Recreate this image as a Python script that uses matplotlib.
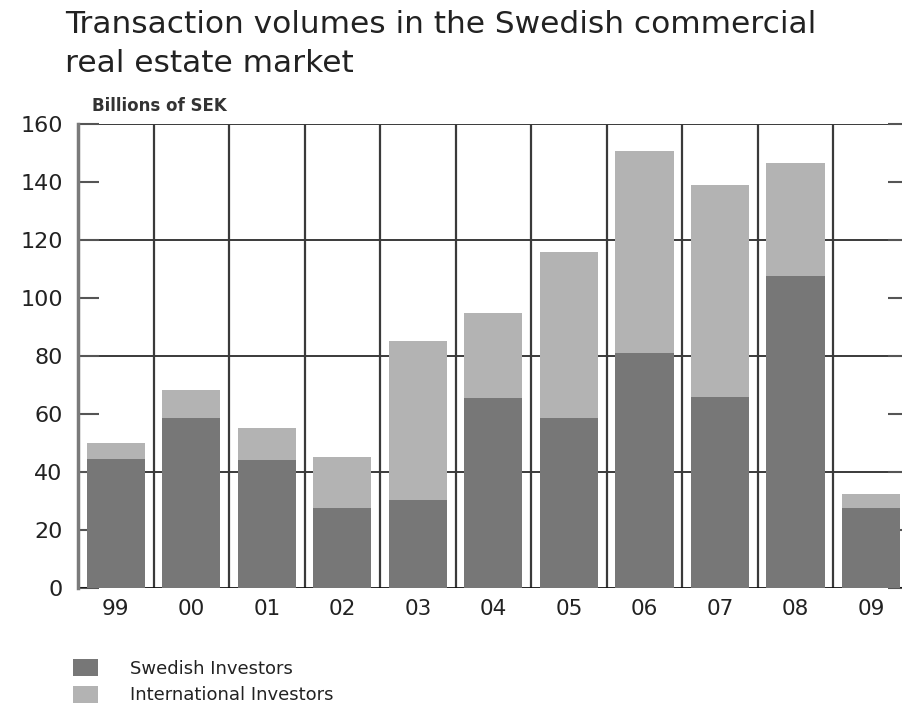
import matplotlib
matplotlib.use("Agg")
import matplotlib.pyplot as plt
import numpy as np

### Data (billions of SEK)
years = ['99', '00', '01', '02', '03', '04', '05', '06', '07', '08', '09']
swedish = [44.5, 58.5, 44.0, 27.5, 30.3, 65.4, 58.6, 81.0, 66.0, 107.7, 27.5]
international = [5.5, 9.7, 11.0, 17.7, 55.0, 29.4, 57.3, 69.7, 73.0, 38.7, 5.0]

col_swe = '#777777'
col_int = '#b3b3b3'
fontname = 'DejaVu Sans'

fig = plt.figure(figsize=(9.03, 7.11), dpi=100)
ax = fig.add_axes([0.0864, 0.173, 0.92, 0.6526])

x = np.arange(len(years))
bw = 0.77
ax.bar(x, swedish, width=bw, color=col_swe, zorder=3, label='Swedish Investors')
ax.bar(x, international, width=bw, bottom=swedish, color=col_int, zorder=3,
       label='International Investors')

### grid: horizontal every 40, vertical between categories
for yv in [40, 80, 120, 160]:
    ax.axhline(yv, color='#3a3a3a', linewidth=1.4, zorder=1)
for xv in x[:-1] + 0.5:
    ax.axvline(xv, color='#3a3a3a', linewidth=1.6, zorder=1)
ax.axhline(0, color='#111111', linewidth=2.0, zorder=2)

ax.set_xlim(-0.5, len(years) - 0.5)
ax.set_ylim(0, 160)
ax.set_yticks(np.arange(0, 161, 20))
ax.set_xticks(x)
ax.set_xticklabels(years)

for s in ['top', 'right', 'bottom']:
    ax.spines[s].set_visible(False)
ax.spines['left'].set_color('#7a7a7a')
ax.spines['left'].set_linewidth(2.5)

ax.tick_params(axis='y', direction='in', length=15, width=1.5, color='#555555',
               right=True, labelsize=16, pad=11, labelcolor='#222222')
ax.tick_params(axis='x', length=0, labelsize=15.5, pad=8, labelcolor='#222222')
for lab in ax.get_xticklabels() + ax.get_yticklabels():
    lab.set_family(fontname)

### Titles
fig.text(0.072, 0.9536, 'Transaction volumes in the Swedish commercial',
         fontsize=22.5, family=fontname, color='#222222', va='baseline', ha='left')
fig.text(0.072, 0.8987, 'real estate market',
         fontsize=22.5, family=fontname, color='#222222', va='baseline', ha='left')
fig.text(0.102, 0.8439, 'Billions of SEK', fontsize=12, family=fontname,
         fontweight='bold', color='#333333', va='baseline', ha='left')

### Legend
leg = fig.legend(loc='upper left', bbox_to_anchor=(0.0808, 0.073),
                 frameon=False, prop={'family': fontname, 'size': 13},
                 handlelength=1.4, handleheight=1.05, handletextpad=1.75,
                 labelspacing=0.45, borderaxespad=0, borderpad=0)
for t in leg.get_texts():
    t.set_color('#222222')

plt.savefig('out.png', dpi=100)
